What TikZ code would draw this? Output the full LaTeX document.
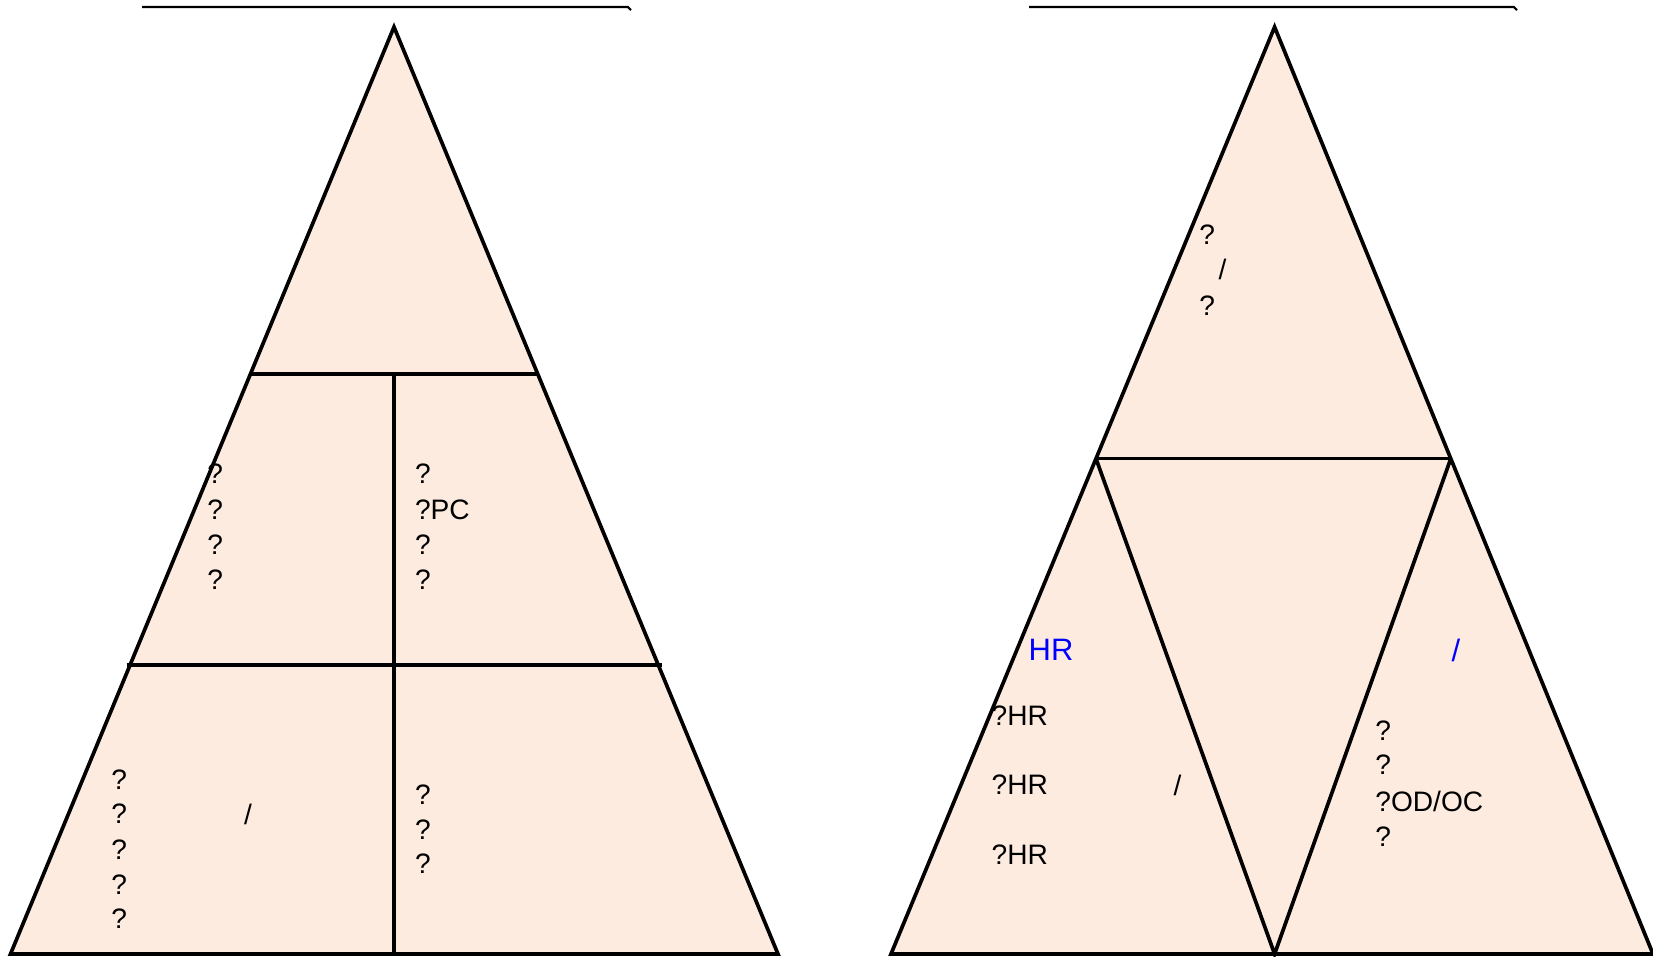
\documentclass[tikz,border=0pt]{standalone}
\usepackage{fontspec}
\setmainfont{Liberation Sans}
\usetikzlibrary{calc}
\definecolor{PeachFill}{RGB}{253,235,224}
\definecolor{LabelBlue}{RGB}{0,0,255}
\tikzset{
  zone/.style={draw=black,fill=PeachFill,line width=1.05pt,line join=miter},
  divider/.style={draw=black,line width=1.05pt},
  topbar/.style={draw=black,line width=0.6pt},
  lbl/.style={font=\fontsize{8}{10}\selectfont,anchor=west,inner sep=0pt},
  bluelbl/.style={lbl,text=LabelBlue,font=\fontsize{8.8}{11}\selectfont}
}
\begin{document}
\begin{tikzpicture}[x=0.01cm,y=-0.01cm]
  \useasboundingbox (0,0) rectangle (1653,956);
  % left pyramid
  \coordinate (lTop) at (394,27);
  \coordinate (lLeft) at (10.5,954);
  \coordinate (lRight) at (778,954);
  \draw[topbar] (142,7) -- (628,7) -- (631,10);
  \draw[zone] (lTop) -- (lLeft) -- (lRight) -- cycle;
  \coordinate (lAw) at ($(lTop)!0.3743!(lLeft)$);
  \coordinate (lAe) at ($(lTop)!0.3743!(lRight)$);
  \coordinate (lMid) at (394,374);
  \coordinate (lBot) at (394,954);
  \draw[divider] (lAw) -- (lAe);
  \draw[divider] (lMid) -- (lBot);
  \draw[divider] (126.5,665) -- (662,665);
  \foreach \y/\t [count=\i] in {474/?,510/?PC,545/?,580/?}
    \node[lbl] (midR\i) at (414.3,\y) {\t};
  \foreach \y [count=\i] in {474,510,545,580}
    \node[lbl] (midL\i) at (206.6,\y) {?};
  \foreach \y [count=\i] in {780,814,850,885,919}
    \node[lbl] (botL\i) at (110.7,\y) {?};
  \node[lbl] (botLslash) at (243.5,814) {/};
  \foreach \y [count=\i] in {795,830,864}
    \node[lbl] (botR\i) at (414.3,\y) {?};
  % right pyramid
  \coordinate (rTop) at (1274.6,27);
  \coordinate (rLeft) at (891,954);
  \coordinate (rRight) at (1653,954);
  \draw[topbar] (1029,7) -- (1514,7) -- (1517,10);
  \draw[zone] (rTop) -- (rLeft) -- (rRight) -- cycle;
  \coordinate (rAw) at ($(rTop)!0.4656!(rLeft)$);
  \coordinate (rAe) at ($(rTop)!0.4656!(rRight)$);
  \draw[divider] (rAw) -- (rAe);
  \draw[divider] (rAw) -- (1274.6,954) -- (rAe);
  \node[lbl] (topQ1) at (1198.6,235) {?};
  \node[lbl] (topSlash) at (1218,269) {/};
  \node[lbl] (topQ2) at (1198.6,306) {?};
  \node[bluelbl] (hrHead) at (1028,650) {HR};
  \foreach \y [count=\i] in {716,785,855}
    \node[lbl] (hr\i) at (991,\y) {?HR};
  \node[lbl] (hrSlash) at (1173,785) {/};
  \node[bluelbl] (odHead) at (1451,650) {/};
  \node[lbl] (od1) at (1374.7,731) {?};
  \node[lbl] (od2) at (1374.7,765) {?};
  \node[lbl] (od3) at (1374.7,801) {?OD/OC};
  \node[lbl] (od4) at (1374.7,837) {?};
\end{tikzpicture}
\end{document}
